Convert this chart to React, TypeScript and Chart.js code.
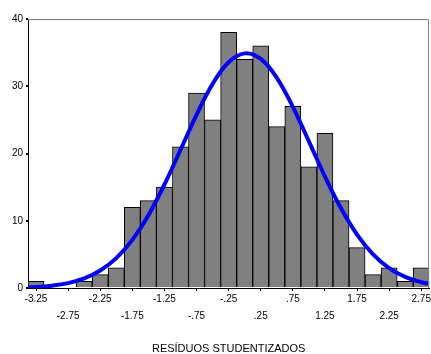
import React, { useEffect, useRef } from "react";
import { Chart, registerables } from "chart.js";

Chart.register(...registerables);

// Histogram bins (centres) and the counts in each bin
const binCenters = [
  -3.25, -3.0, -2.75, -2.5, -2.25, -2.0, -1.75, -1.5, -1.25, -1.0, -0.75, -0.5,
  -0.25, 0.0, 0.25, 0.5, 0.75, 1.0, 1.25, 1.5, 1.75, 2.0, 2.25, 2.5, 2.75,
];
const binCounts = [
  1, 0, 0, 1, 2, 3, 12, 13, 15, 21, 29, 25, 38, 34, 36, 24, 27, 18, 23, 13, 6, 2, 3, 1, 3,
];

// Fitted normal curve, sampled along the axis
const curveX = [
  -3.375, -3.25, -3.0, -2.75, -2.5, -2.25, -2.0, -1.75, -1.5, -1.25, -1.0, -0.75, -0.5,
  -0.25, 0.0, 0.25, 0.5, 0.75, 1.0, 1.25, 1.5, 1.75, 2.0, 2.25, 2.5, 2.75, 2.875,
];
const curveY = [
  0.11, 0.16, 0.35, 0.73, 1.42, 2.6, 4.45, 7.16, 10.83, 15.39, 20.54, 25.75, 30.33,
  33.57, 34.89, 34.07, 31.26, 26.94, 21.81, 16.58, 11.85, 7.95, 5.01, 2.97, 1.65, 0.86, 0.61,
];

// Axis ticks
const xTickValues = [-3.25, -2.75, -2.25, -1.75, -1.25, -0.75, -0.25, 0.25, 0.75, 1.25, 1.75, 2.25, 2.75];
const xTickLabels = ["-3.25", "-2.75", "-2.25", "-1.75", "-1.25", "-.75", "-.25", ".25", ".75", "1.25", "1.75", "2.25", "2.75"];
const yTickValues = [0, 10, 20, 30, 40];

const FONT = "'Liberation Sans', Arial, sans-serif";

// Grey frame on the top and right sides of the plot area
const framePlugin = {
  id: "frame",
  afterDraw(chart: any) {
    const { ctx, chartArea } = chart;
    const { left, top, right, bottom } = chartArea;
    ctx.save();
    ctx.strokeStyle = "#808080";
    ctx.lineWidth = 1;
    ctx.beginPath();
    ctx.moveTo(Math.round(left), Math.round(top) + 0.5);
    ctx.lineTo(Math.round(right) - 0.5, Math.round(top) + 0.5);
    ctx.lineTo(Math.round(right) - 0.5, Math.round(bottom));
    ctx.stroke();
    ctx.restore();
  },
};

export default function App() {
  const canvasRef = useRef<HTMLCanvasElement | null>(null);

  useEffect(() => {
    if (!canvasRef.current) return;
    const chart = new Chart(canvasRef.current, {
      type: "bar",
      data: {
        datasets: [
          {
            type: "line",
            data: curveX.map((x, i) => ({ x, y: curveY[i] })),
            borderColor: "#0000ff",
            borderWidth: 4,
            pointRadius: 0,
            tension: 0.4,
            fill: false,
            order: 0,
          } as any,
          {
            type: "bar",
            data: binCenters.map((x, i) => ({ x, y: binCounts[i] })),
            backgroundColor: "#808080",
            borderColor: "#000000",
            borderWidth: 1,
            barPercentage: 1,
            categoryPercentage: 1,
            order: 1,
          } as any,
        ],
      },
      options: {
        responsive: false,
        animation: false,
        layout: { padding: { top: 19, right: 1, left: 0, bottom: 0 } },
        plugins: {
          legend: { display: false },
          tooltip: { enabled: false },
        },
        scales: {
          x: {
            type: "linear",
            offset: false,
            min: -3.375,
            max: 2.875,
            afterBuildTicks(scale: any) {
              scale.ticks = xTickValues.map((v) => ({ value: v }));
            },
            afterFit(scale: any) {
              scale.height = 66;
            },
            ticks: {
              autoSkip: false,
              maxRotation: 0,
              minRotation: 0,
              padding: 0,
              color: "#000",
              font: { family: FONT, size: 10, lineHeight: 1.7 },
              callback: (_v: any, i: number) =>
                i % 2 === 0 ? [xTickLabels[i]] : ["", xTickLabels[i]],
            },
            grid: {
              offset: false,
              drawOnChartArea: false,
              drawTicks: true,
              tickLength: 3,
              color: "#000",
            },
            border: { color: "#000", width: 1 },
            title: {
              display: true,
              text: "RESÍDUOS STUDENTIZADOS",
              color: "#000",
              font: { family: FONT, size: 11, lineHeight: 0.85 },
              padding: { top: 0, bottom: 0 },
            },
          },
          y: {
            min: 0,
            max: 40,
            afterBuildTicks(scale: any) {
              scale.ticks = yTickValues.map((v) => ({ value: v }));
            },
            afterFit(scale: any) {
              scale.width = 28;
            },
            ticks: {
              color: "#000",
              padding: 3,
              font: { family: FONT, size: 10 },
            },
            grid: {
              drawOnChartArea: false,
              drawTicks: true,
              tickLength: 2,
              lineWidth: 2,
              color: "#000",
            },
            border: { color: "#000", width: 1 },
          },
        },
      } as any,
      plugins: [framePlugin],
    });
    return () => chart.destroy();
  }, []);

  return (
    <div style={{ position: "fixed", left: 0, top: 0, width: 431, height: 354, background: "#fff" }}>
      <canvas ref={canvasRef} width={431} height={354} />
    </div>
  );
}
